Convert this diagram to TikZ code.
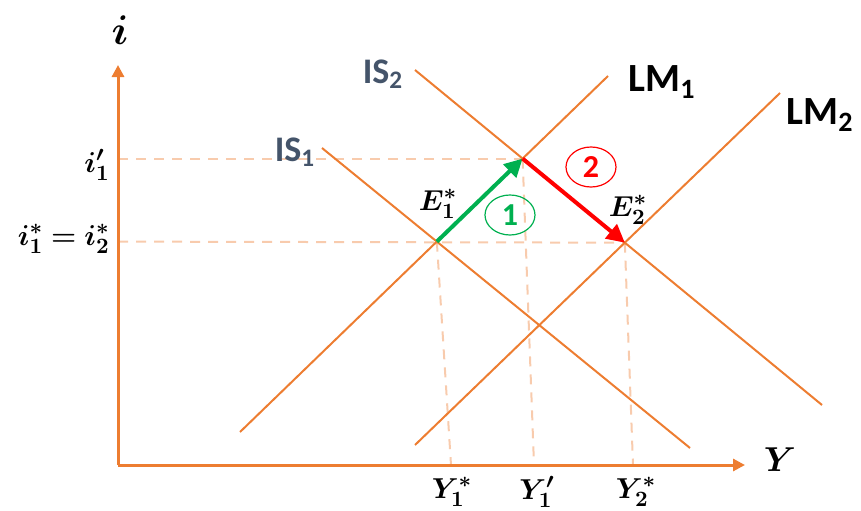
\documentclass[tikz,border=0pt]{standalone}
\usepackage{amsmath}
\usepackage{bm}
\usepackage{fontspec}
\newfontfamily\carlito{Carlito}
\usepackage{tikz}
\usetikzlibrary{arrows.meta,shapes.geometric,calc}

\definecolor{curveorange}{HTML}{ED7D31}
\definecolor{guideorange}{HTML}{F8CBAD}
\definecolor{slate}{HTML}{44546A}
\definecolor{shiftgreen}{HTML}{00B050}

\begin{document}
\begin{tikzpicture}[x=0.5pt, y=0.5pt,
    curve/.style={curveorange, line width=1pt},
    guide/.style={guideorange, line width=1pt, dash pattern=on 5pt off 4pt},
    axis/.style={curveorange, line width=1.5pt, -{Triangle[length=6pt,width=6pt]}},
    islabel/.style={slate, font=\carlito\bfseries\fontsize{18}{18}\selectfont},
    lmlabel/.style={black, font=\carlito\bfseries\fontsize{20}{20}\selectfont},
    mathlabel/.style={font=\fontsize{15}{15}\selectfont},
    move/.style={line width=2pt, -{Triangle[length=9pt,width=9pt]}},
    stepmark/.style={ellipse, draw, line width=0.6pt, minimum width=25pt, minimum height=20pt, inner sep=0pt, font=\carlito\bfseries\fontsize{16}{16}\selectfont}]
    \useasboundingbox (0,0) rectangle (861,510);

    % Curve end points
    \coordinate (lm1a) at (240,78);  \coordinate (lm1b) at (608,434);
    \coordinate (lm2a) at (415,65);  \coordinate (lm2b) at (780,417);
    \coordinate (is1a) at (322,362); \coordinate (is1b) at (690,62);
    \coordinate (is2a) at (415,440); \coordinate (is2b) at (822,105);

    % Equilibria
    \coordinate (E1) at (intersection of lm1a--lm1b and is1a--is1b);
    \coordinate (Ep) at (intersection of lm1a--lm1b and is2a--is2b);
    \coordinate (E2) at (intersection of lm2a--lm2b and is2a--is2b);

    % Axes
    \coordinate (O) at (118,45);
    \coordinate (ytop) at (118,445);
    \coordinate (xend) at (745,45);
    \coordinate (y1s) at (451,45);
    \coordinate (y1p) at (534,45);
    \coordinate (y2s) at (633,45);

    % Guide lines
    \draw[guide] (O |- Ep) -- (Ep);
    \draw[guide] (O |- E1) -- (E2);
    \draw[guide] (E1) -- (y1s);
    \draw[guide] (Ep) -- (y1p);
    \draw[guide] (E2) -- (y2s);

    % IS and LM curves
    \draw[curve] (lm1a) -- (lm1b);
    \draw[curve] (lm2a) -- (lm2b);
    \draw[curve] (is1a) -- (is1b);
    \draw[curve] (is2a) -- (is2b);

    \draw[axis] (O) -- (ytop);
    \draw[axis] (O) -- (xend);

    % Shifts
    \draw[move, shiftgreen] (E1) -- (Ep);
    \draw[move, red] (Ep) -- (E2);
    \node[stepmark, shiftgreen] (step1) at (510,295) {1};
    \node[stepmark, red] (step2) at (591,343) {2};

    % Labels
    \node[font=\fontsize{20}{20}\selectfont] (ilabel) at (120,480) {$\bm{i}$};
    \node[font=\fontsize{18}{18}\selectfont] (Ylabel) at (780,50) {$\bm{Y}$};
    \node[mathlabel, anchor=east, inner sep=2pt] (ip) at (114,345) {$\bm{i^{\prime}_1}$};
    \node[mathlabel, anchor=east, inner sep=2pt] (is) at (114,271) {$\bm{i^{*}_1 = i^{*}_2}$};
    \node[mathlabel] (Y1s) at (452,18) {$\bm{Y^{*}_1}$};
    \node[mathlabel] (Y1p) at (537,18) {$\bm{Y^{\prime}_1}$};
    \node[mathlabel] (Y2s) at (636,18) {$\bm{Y^{*}_2}$};
    \node[mathlabel] (E1l) at (438,306) {$\bm{E^{*}_1}$};
    \node[mathlabel] (E2l) at (628,300) {$\bm{E^{*}_2}$};
    \node[islabel] (is1) at (295,358) {IS\textsubscript{1}};
    \node[islabel] (is2) at (383,436) {IS\textsubscript{2}};
    \node[lmlabel] (lm1) at (662,428) {LM\textsubscript{1}};
    \node[lmlabel] (lm2) at (820,395) {LM\textsubscript{2}};
\end{tikzpicture}
\end{document}
